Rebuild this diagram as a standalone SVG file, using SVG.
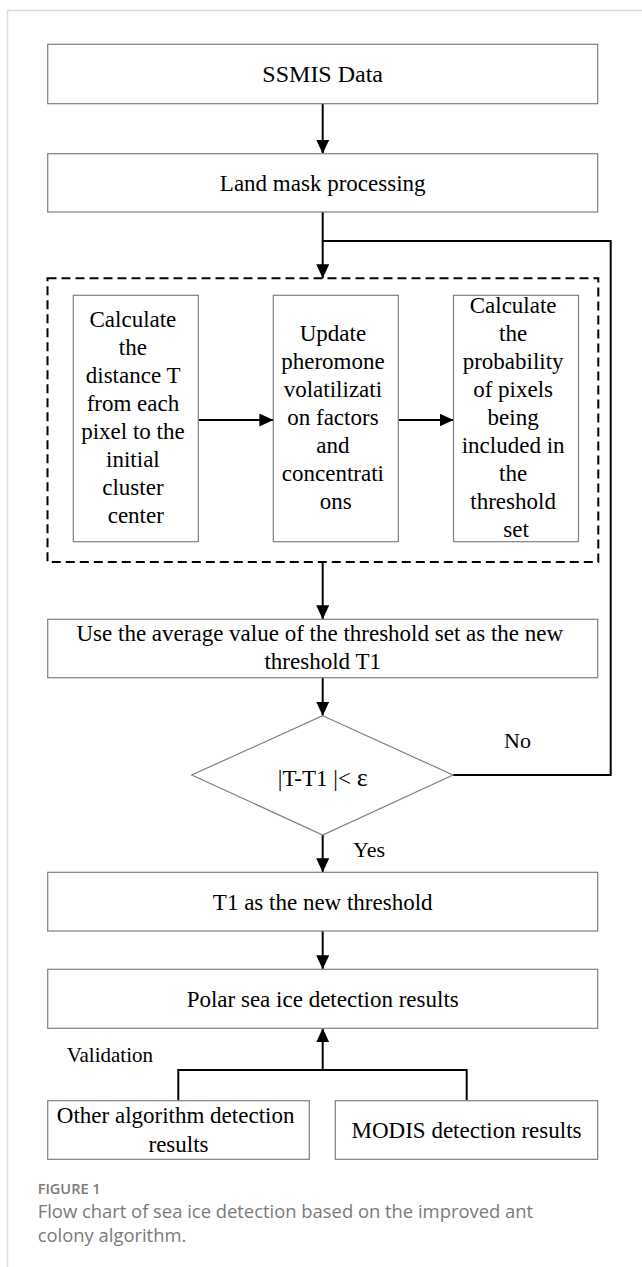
<svg xmlns="http://www.w3.org/2000/svg" width="642" height="1267" viewBox="0 0 642 1267">
  <style>
    .frame { fill: none; stroke: #dcdcdc; stroke-width: 1.5; }
    .box { fill: #fff; stroke: #808080; stroke-width: 1.2; }
    .link { fill: none; stroke: #000; stroke-width: 2; }
    .dash { fill: none; stroke: #000; stroke-width: 2; stroke-dasharray: 9 5; }
    .t { font-family: "Liberation Serif", "Times New Roman", serif; font-size: 23px; fill: #000; text-anchor: middle; }
    .lbl { font-family: "Liberation Serif", "Times New Roman", serif; font-size: 22px; fill: #000; }
    .fig { font-family: "Open Sans", "Noto Sans", sans-serif; font-size: 14.5px; font-weight: 600; fill: #7a7a7a; }
    .cap { font-family: "Open Sans", "Noto Sans", sans-serif; font-size: 18.4px; fill: #7a7a7a; }
  </style>
  <defs>
    <marker id="arrow" viewBox="0 0 14 13" refX="14" refY="6.5" markerWidth="14" markerHeight="13" markerUnits="userSpaceOnUse" orient="auto">
      <path d="M0,0 L14,6.5 L0,13 Z" fill="#000"/>
    </marker>
  </defs>

  <!-- page frame -->
  <path class="frame" d="M7.5,1267 V10.5 H642"/>

  <!-- connectors -->
  <g id="connectors">
    <line class="link" x1="322.7" y1="104" x2="322.7" y2="153.7" marker-end="url(#arrow)"/>
    <line class="link" x1="322.7" y1="212" x2="322.7" y2="278.3" marker-end="url(#arrow)"/>
    <polyline class="link" points="453,775 610.7,775 610.7,241 322.7,241"/>
    <line class="link" x1="198.3" y1="420" x2="273.3" y2="420" marker-end="url(#arrow)"/>
    <line class="link" x1="398.3" y1="420" x2="453.5" y2="420" marker-end="url(#arrow)"/>
    <line class="link" x1="322.7" y1="562" x2="322.7" y2="619.3" marker-end="url(#arrow)"/>
    <line class="link" x1="322.7" y1="677.7" x2="322.7" y2="715.7" marker-end="url(#arrow)"/>
    <line class="link" x1="322.7" y1="835" x2="322.7" y2="872.3" marker-end="url(#arrow)"/>
    <line class="link" x1="322.7" y1="931" x2="322.7" y2="969.3" marker-end="url(#arrow)"/>
    <polyline class="link" points="178.3,1100.7 178.3,1070 466.7,1070 466.7,1100.7"/>
    <line class="link" x1="322.7" y1="1070" x2="322.7" y2="1028.3" marker-end="url(#arrow)"/>
  </g>

  <!-- iteration group (dashed) -->
  <rect id="iteration" class="dash" x="47.5" y="278.3" width="550.8" height="283.7"/>

  <g id="ssmis">
    <rect class="box" x="47.7" y="44.3" width="550" height="59.4"/>
    <text class="t" x="322.7" y="81.7" style="font-size:24px">SSMIS Data</text>
  </g>

  <g id="landmask">
    <rect class="box" x="47.7" y="153.7" width="550" height="58.3"/>
    <text class="t" x="322.7" y="190.5">Land mask processing</text>
  </g>

  <g id="distance">
    <rect class="box" x="73.3" y="295.3" width="125" height="246.4"/>
    <text class="t" y="326.5">
      <tspan x="135.8">Calculate</tspan>
      <tspan x="135.8" dy="28">the</tspan>
      <tspan x="135.8" dy="28">distance T</tspan>
      <tspan x="135.8" dy="28">from each</tspan>
      <tspan x="135.8" dy="28">pixel to the</tspan>
      <tspan x="135.8" dy="28">initial</tspan>
      <tspan x="135.8" dy="28">cluster</tspan>
      <tspan x="135.8" dy="28">center</tspan>
    </text>
  </g>

  <g id="pheromone">
    <rect class="box" x="273.3" y="295.3" width="125" height="246.4"/>
    <text class="t" y="340.5">
      <tspan x="335.8">Update</tspan>
      <tspan x="335.8" dy="28">pheromone</tspan>
      <tspan x="335.8" dy="28">volatilizati</tspan>
      <tspan x="335.8" dy="28">on factors</tspan>
      <tspan x="335.8" dy="28">and</tspan>
      <tspan x="335.8" dy="28">concentrati</tspan>
      <tspan x="335.8" dy="28">ons</tspan>
    </text>
  </g>

  <g id="probability">
    <rect class="box" x="453.5" y="295.3" width="125" height="246.4"/>
    <text class="t" y="312.5">
      <tspan x="516">Calculate</tspan>
      <tspan x="516" dy="28">the</tspan>
      <tspan x="516" dy="28">probability</tspan>
      <tspan x="516" dy="28">of pixels</tspan>
      <tspan x="516" dy="28">being</tspan>
      <tspan x="516" dy="28">included in</tspan>
      <tspan x="516" dy="28">the</tspan>
      <tspan x="516" dy="28">threshold</tspan>
      <tspan x="516" dy="28">set</tspan>
    </text>
  </g>

  <g id="average">
    <rect class="box" x="47.7" y="619.3" width="550" height="58.4"/>
    <text class="t" y="641">
      <tspan x="322.7">Use the average value of the threshold set as the new</tspan>
      <tspan x="322.7" dy="28">threshold T1</tspan>
    </text>
  </g>

  <g id="decision">
    <polygon class="box" points="322.7,715.7 453,775 322.7,835 191.7,775"/>
    <text class="t" x="322.7" y="786">|T-T1 |&lt; <tspan style="font-size:26px">ε</tspan></text>
  </g>
  <text id="label-no" class="lbl" x="504" y="748">No</text>
  <text id="label-yes" class="lbl" x="353" y="857">Yes</text>

  <g id="newthreshold">
    <rect class="box" x="47.7" y="872.3" width="550" height="58.7"/>
    <text class="t" x="322.7" y="909.5">T1 as the new threshold</text>
  </g>

  <g id="result">
    <rect class="box" x="47.7" y="969.3" width="550" height="59"/>
    <text class="t" x="322.7" y="1006.7">Polar sea ice detection results</text>
  </g>

  <text id="label-validation" class="lbl" x="66.7" y="1061.7" style="font-size:21px">Validation</text>

  <g id="other">
    <rect class="box" x="47.7" y="1100.7" width="261.6" height="58.6"/>
    <text class="t" y="1123.3">
      <tspan x="178.5">Other algorithm detection</tspan>
      <tspan x="178.5" dy="28.4">results</tspan>
    </text>
  </g>

  <g id="modis">
    <rect class="box" x="335.3" y="1100.7" width="262.4" height="58.6"/>
    <text class="t" x="466.5" y="1138.3">MODIS detection results</text>
  </g>

  <!-- caption -->
  <text class="fig" x="37.7" y="1194">FIGURE 1</text>
  <text class="cap" x="37.7" y="1218.3">Flow chart of sea ice detection based on the improved ant</text>
  <text class="cap" x="37.7" y="1241.7">colony algorithm.</text>
</svg>
